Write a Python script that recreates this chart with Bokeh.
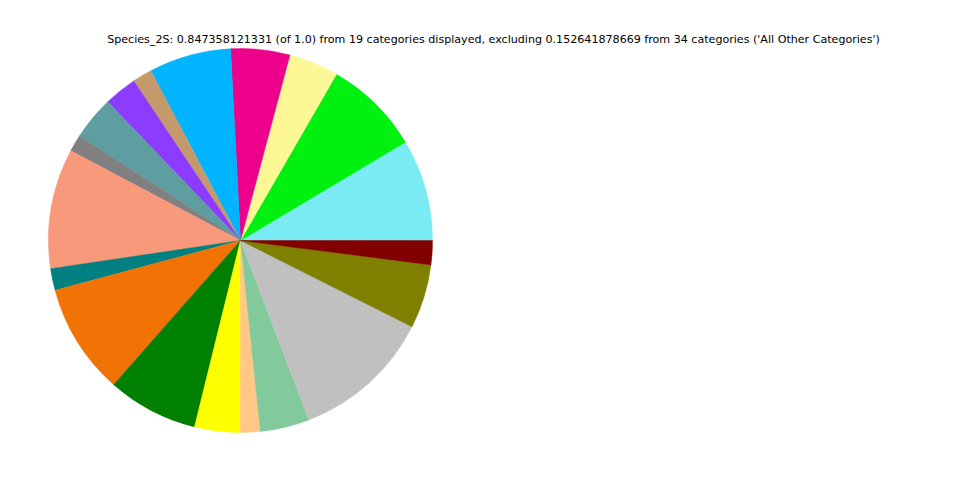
import math
from bokeh.plotting import figure
from bokeh.models import Range1d, ColumnDataSource
from bokeh.core.properties import value
from bokeh.embed import file_html
from bokeh.resources import INLINE

categories = [f"Category {i}" for i in range(1, 20)]
values = [0.0725, 0.0687, 0.0355, 0.0421, 0.0586, 0.0139, 0.0235, 0.0313, 0.0120,
          0.0854, 0.0155, 0.0791, 0.0647, 0.0325, 0.0141, 0.0351, 0.0998, 0.0457, 0.0172]
colors = ["#7aebf3", "#00f010", "#fef796", "#ec008c", "#00b4ff", "#c49a6c", "#8c3cff",
          "#5f9ea0", "#808080", "#f9997b", "#008080", "#f27305", "#008000", "#ffff00",
          "#ffc886", "#82ca9c", "#c0c0c0", "#808000", "#800000"]
title_text = ("Species_2S: 0.847358121331 (of 1.0) from 19 categories displayed, "
              "excluding 0.152641878669 from 34 categories ('All Other Categories')")

total = sum(values)
starts, ends = [], []
acc = 0.0
for v in values:
    starts.append(2 * math.pi * acc / total)
    acc += v
    ends.append(2 * math.pi * acc / total)

src = ColumnDataSource(dict(cat=categories, val=values, color=colors,
                            start=starts, end=ends))

W, H = 944, 464
p = figure(width=W, height=H, output_backend="svg", toolbar_location=None,
           x_range=Range1d(0, W), y_range=Range1d(480 - H, 480),
           min_border=0)
p.axis.visible = False
p.grid.visible = False
p.outline_line_color = None
p.background_fill_color = "white"

p.wedge(x=240, y=240, radius=192, start_angle="start", end_angle="end",
        fill_color="color", line_color="color", line_width=0.5, source=src)

p.text(x=[493], y=[480 - 39], text=[title_text], text_align="center",
       text_baseline="middle", text_font=value("DejaVu Sans"),
       text_font_size="11.1px", text_color="black")

open("out.html", "w").write(file_html(p, INLINE))
